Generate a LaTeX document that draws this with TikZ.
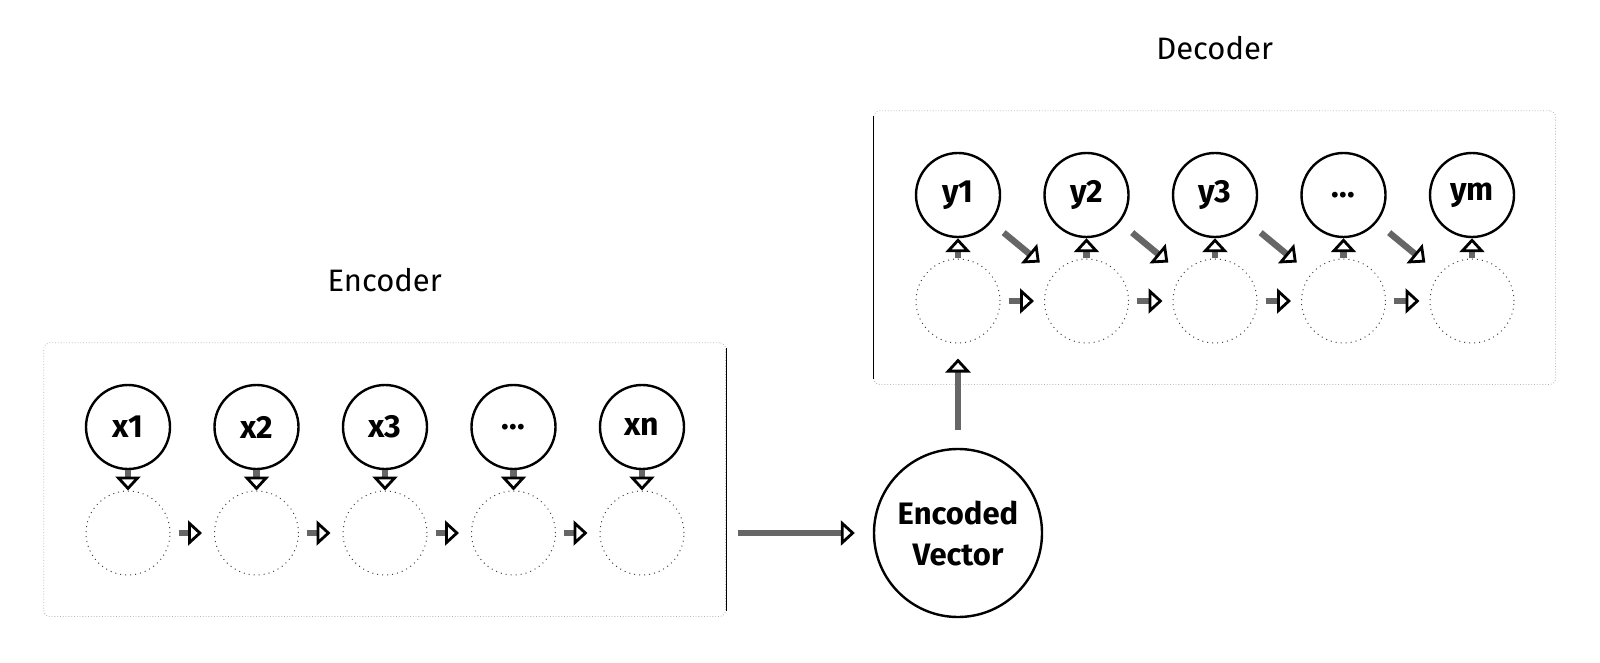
\documentclass[tikz,border=0pt]{standalone}
\usepackage{fontspec}
\setmainfont{Fira Sans}
\usetikzlibrary{arrows.meta,positioning,fit}
\tikzset{
  token/.style = {circle, draw, line width=1.2pt, minimum size=42pt, inner sep=0pt, font=\fontsize{16}{18}\selectfont\bfseries},
  cell/.style  = {circle, draw=black!75, dotted, line width=0.5pt, minimum size=42pt, inner sep=0pt},
  flow/.style  = {draw=black!60, line width=3.2pt, -{Triangle[open, length=7pt, width=12.5pt, line width=1.4pt, color=black]}},
  frame/.style = {draw=black!30, densely dotted, rounded corners=3pt, inner sep=20.5pt},
  title/.style = {font=\fontsize{15.5}{18}\selectfont},
}

\begin{document}
\begin{tikzpicture}[x=0.5pt, y=-0.5pt, node distance=53pt and 64.25pt, on grid]
      \useasboundingbox (0,0) rectangle (1600,663);
      % encoder
      \node[cell] (e1) at (128,533) {};
      \node[cell, right=of e1] (e2) {};
      \node[cell, right=of e2] (e3) {};
      \node[cell, right=of e3] (e4) {};
      \node[cell, right=of e4] (e5) {};
      \node[token, above=of e1] (x1) {x1};
      \node[token, above=of e2] (x2) {x2};
      \node[token, above=of e3] (x3) {x3};
      \node[token, above=of e4] (xd) {...};
      \node[token, above=of e5] (xn) {xn};
      \node[frame, fit=(x1)(e5)] (enc) {};
      \node[title, above=21.5pt of enc.north] (enct) {Encoder};

      \node[token, minimum size=84pt, align=center, font=\fontsize{15.5}{20.5}\selectfont\bfseries,
            right=158pt of e5] (vec) {Encoded\\Vector};

      % decoder
      \node[cell, above=116pt of vec] (d1) {};
      \node[cell, right=of d1] (d2) {};
      \node[cell, right=of d2] (d3) {};
      \node[cell, right=of d3] (d4) {};
      \node[cell, right=of d4] (d5) {};
      \node[token, above=of d1] (y1) {y1};
      \node[token, above=of d2] (y2) {y2};
      \node[token, above=of d3] (y3) {y3};
      \node[token, above=of d4] (yd) {...};
      \node[token, above=of d5] (ym) {ym};
      \node[frame, fit=(y1)(d5)] (dec) {};
      \node[title, above=21.5pt of dec.north] (dect) {Decoder};

      \draw[thin] ([yshift=-3pt]enc.north east) -- ([yshift=3pt]enc.south east);
      \draw[thin] ([yshift=-3pt]dec.north west) -- ([yshift=3pt]dec.south west);

      \path (x1) edge[flow] (e1) (x2) edge[flow] (e2) (x3) edge[flow] (e3)
            (xd) edge[flow] (e4) (xn) edge[flow] (e5);
      \path (e1) edge[flow, shorten <=4pt, shorten >=6pt] (e2);
      \path (e2) edge[flow, shorten <=4pt, shorten >=6pt] (e3);
      \path (e3) edge[flow, shorten <=4pt, shorten >=6pt] (e4);
      \path (e4) edge[flow, shorten <=4pt, shorten >=6pt] (e5);

      \draw[flow, shorten <=6pt, shorten >=9pt] (enc.east |- vec) -- (vec);
      \path (vec) edge[flow, shorten <=9pt, shorten >=7.5pt] (d1);

      \path (d1) edge[flow] (y1) (d2) edge[flow] (y2) (d3) edge[flow] (y3)
            (d4) edge[flow] (yd) (d5) edge[flow] (ym);
      \path (d1) edge[flow, shorten <=4pt, shorten >=5pt] (d2);
      \path (d2) edge[flow, shorten <=4pt, shorten >=5pt] (d3);
      \path (d3) edge[flow, shorten <=4pt, shorten >=5pt] (d4);
      \path (d4) edge[flow, shorten <=4pt, shorten >=5pt] (d5);
      \path (y1) edge[flow, shorten <=8pt, shorten >=9pt] (d2);
      \path (y2) edge[flow, shorten <=8pt, shorten >=9pt] (d3);
      \path (y3) edge[flow, shorten <=8pt, shorten >=9pt] (d4);
      \path (yd) edge[flow, shorten <=8pt, shorten >=9pt] (d5);
\end{tikzpicture}
\end{document}
